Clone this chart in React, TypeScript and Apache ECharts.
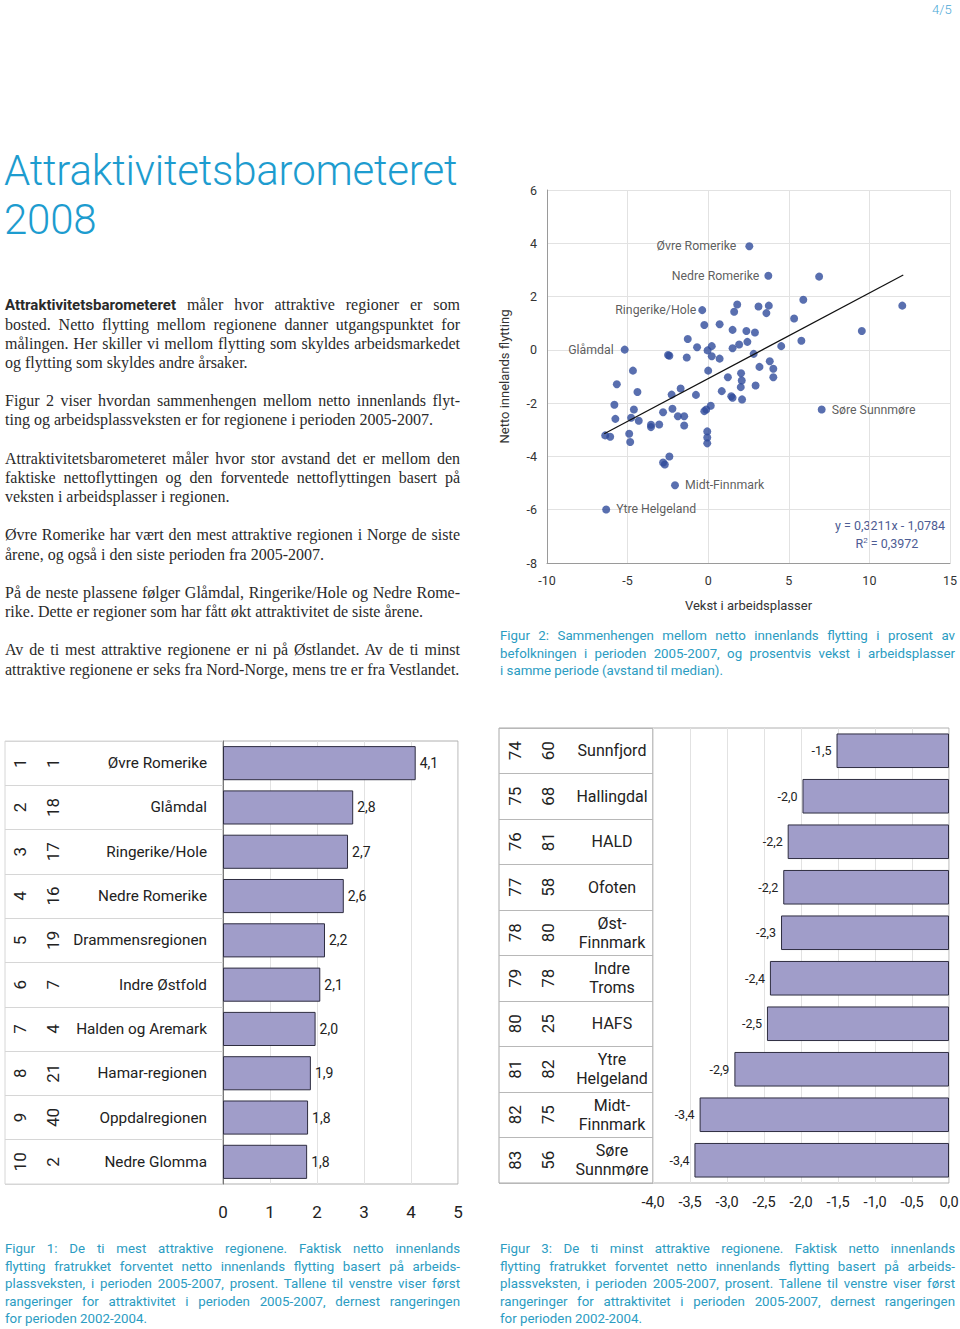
import React, { useEffect, useRef } from "react";
import * as echarts from "echarts";

// ---------- Figure 2: scatter data ----------
const scatterPoints: [number, number][] = [
  [6.88, 2.75], [5.9, 1.88], [12.04, 1.66], [1.8, 1.7], [1.61, 1.43], [3.12, 1.63], [3.76, 1.66],
  [3.61, 1.38], [5.33, 1.18], [-0.24, 0.93], [0.71, 0.96], [1.51, 0.75], [2.37, 0.71], [2.9, 0.65],
  [9.53, 0.71], [-1.27, 0.41], [-0.69, 0.1], [0.22, 0.14], [-0.04, -0.02], [1.51, 0.06], [1.92, 0.2],
  [2.43, 0.3], [4.53, 0.14], [5.78, 0.34], [-2.49, -0.19], [-2.41, -0.22], [-1.33, -0.29], [0.22, -0.24],
  [0.71, -0.33], [2.82, -0.15], [3.82, -0.43], [3.18, -0.64], [4.04, -0.71], [4.04, -1.03], [0, -0.78],
  [2.04, -0.88], [2.08, -1.15], [2.02, -1.4], [2.94, -1.34], [1.22, -1.03], [-4.67, -0.78], [-5.67, -1.29],
  [-4.39, -1.58], [-1.71, -1.45], [-2.27, -1.68], [-0.76, -1.69], [0.84, -1.55], [1.43, -1.74], [1.51, -1.8],
  [2.1, -1.86], [-5.82, -2.06], [-4.61, -2.24], [-5.76, -2.59], [-4.78, -2.55], [-4.31, -2.66], [-2.8, -2.34],
  [-2.22, -2.21], [-1.88, -2.49], [-1.49, -2.49], [-1.49, -2.84], [-3.55, -2.81], [-3.55, -2.9], [-3.04, -2.8],
  [-0.24, -2.3], [-0.12, -2.24], [0.16, -2.1], [-6.39, -3.21], [-6.08, -3.26], [-4.9, -3.15], [-4.84, -3.46],
  [-0.06, -3.06], [-0.06, -3.29], [-0.06, -3.51], [-2.41, -4.0], [-2.8, -4.23], [-2.69, -4.3],
];
const labeledRegions = ["Øvre Romerike", "Nedre Romerike", "Ringerike/Hole", "Glåmdal", "Søre Sunnmøre", "Midt-Finnmark", "Ytre Helgeland"];
const labeledPoints: [number, number][] = [
  [2.55, 3.89], [3.73, 2.78], [-0.37, 1.49], [-5.18, 0.01], [7.04, -2.24], [-2.06, -5.08], [-6.33, -5.99],
];
const labelSides = ["left", "left", "left", "left", "right", "right", "right"];
const labelGaps = [9, 5, 2, 7, 6, 6, 6];
const trendSlope = 0.3211;
const trendIntercept = -1.0784;
const trendRange = [-6.45, 12.1];

// ---------- Figure 1: top ten ----------
const topNames = ["Øvre Romerike", "Glåmdal", "Ringerike/Hole", "Nedre Romerike", "Drammensregionen", "Indre Østfold", "Halden og Aremark", "Hamar-regionen", "Oppdalregionen", "Nedre Glomma"];
const topValues = [4.1, 2.77, 2.66, 2.57, 2.17, 2.07, 1.97, 1.87, 1.81, 1.79];
const topRank2008 = ["1", "2", "3", "4", "5", "6", "7", "8", "9", "10"];
const topRank0204 = ["1", "18", "17", "16", "19", "7", "4", "21", "40", "2"];

// ---------- Figure 3: bottom ten ----------
const bottomNames = ["Sunnfjord", "Hallingdal", "HALD", "Ofoten", "Øst-\nFinnmark", "Indre\nTroms", "HAFS", "Ytre\nHelgeland", "Midt-\nFinnmark", "Søre\nSunnmøre"];
const bottomValues = [-1.52, -1.98, -2.18, -2.24, -2.27, -2.42, -2.46, -2.9, -3.37, -3.44];
const bottomRank2008 = ["74", "75", "76", "77", "78", "79", "80", "81", "82", "83"];
const bottomRank0204 = ["60", "68", "81", "58", "80", "78", "25", "82", "75", "56"];

// ---------- Text ----------
const paragraphs: string[][] = [
  ["§Attraktivitetsbarometeret§ måler hvor attraktive regioner er som", "bosted. Netto flytting mellom regionene danner utgangspunktet for", "målingen. Her skiller vi mellom flytting som skyldes arbeidsmarkedet", "og flytting som skyldes andre årsaker."],
  ["Figur 2 viser hvordan sammenhengen mellom netto innenlands flyt-", "ting og arbeidsplassveksten er for regionene i perioden 2005-2007."],
  ["Attraktivitetsbarometeret måler hvor stor avstand det er mellom den", "faktiske nettoflyttingen og den forventede nettoflyttingen basert på", "veksten i arbeidsplasser i regionen."],
  ["Øvre Romerike har vært den mest attraktive regionen i Norge de siste", "årene, og også i den siste perioden fra 2005-2007."],
  ["På de neste plassene følger Glåmdal, Ringerike/Hole og Nedre Rome-", "rike. Dette er regioner som har fått økt attraktivitet de siste årene."],
  ["Av de ti mest attraktive regionene er ni på Østlandet. Av de ti minst", "attraktive regionene er seks fra Nord-Norge, mens tre er fra Vestlandet."],
];
const caption2 = ["Figur 2: Sammenhengen mellom netto innenlands flytting i prosent av", "befolkningen i perioden 2005-2007, og prosentvis vekst i arbeidsplasser", "i samme periode (avstand til median)."];
const caption1 = ["Figur 1: De ti mest attraktive regionene. Faktisk netto innenlands", "flytting fratrukket forventet netto innenlands flytting basert på arbeids-", "plassveksten, i perioden 2005-2007, prosent. Tallene til venstre viser først", "rangeringer for attraktivitet i perioden 2005-2007, dernest rangeringen", "for perioden 2002-2004."];
const caption3 = ["Figur 3: De ti minst attraktive regionene. Faktisk netto innenlands", "flytting fratrukket forventet netto innenlands flytting basert på arbeids-", "plassveksten, i perioden 2005-2007, prosent. Tallene til venstre viser først", "rangeringer for attraktivitet i perioden 2005-2007, dernest rangeringen", "for perioden 2002-2004."];

const SANS = 'Roboto, "Noto Sans", sans-serif';
const SERIF = '"Liberation Serif", "DejaVu Serif", serif';
const BLUE = "#2b9cc2";
const comma = (v: number) => v.toFixed(1).replace(".", ",");

function Lines({ lines, left, top, width, lh, style }: any) {
  return (
    <div style={{ position: "absolute", left, top, width, ...style }}>
      {lines.map((l: string, i: number) => {
        const last = i === lines.length - 1;
        let content: any = l;
        if (l.startsWith("§")) {
          const parts = l.split("§");
          content = (
            <>
              <span style={{ fontFamily: SANS, fontWeight: 700, fontSize: "15px" }}>{parts[1]}</span>
              {parts[2]}
            </>
          );
        }
        return (
          <div key={i} style={{ height: lh, lineHeight: lh + "px", textAlign: "justify", textAlignLast: last ? "left" : "justify", overflow: "visible" }}>
            {content}
          </div>
        );
      })}
    </div>
  );
}

export default function App() {
  const ref = useRef<HTMLDivElement>(null);
  useEffect(() => {
    if (!ref.current) return;
    const chart = echarts.init(ref.current, undefined, { renderer: "svg" });
    const gridLine = { show: true, lineStyle: { color: "#e2e2e2", width: 1 } };
    const hiddenX = (gridIndex: number) => ({ type: "value", gridIndex, show: false, min: 0, max: 1 });
    const rankAxis = (gridIndex: number, data: string[], margin: number) => ({
      type: "category", gridIndex, data, inverse: true, position: "left",
      axisLine: { show: false }, axisTick: { show: false }, splitLine: { show: false },
      axisLabel: { rotate: 90, margin, fontSize: 17, color: "#222", fontFamily: SANS, interval: 0 },
    });
    const tableAxis = (gridIndex: number, data: string[], color: string) => ({
      type: "category", gridIndex, data, inverse: true, position: "left",
      axisLine: { show: false }, axisTick: { show: false }, axisLabel: { show: false },
      splitLine: { show: true, interval: 0, lineStyle: { color, width: 1 } },
    });
    const g = (o: any) => ({ outerBoundsMode: "none", containLabel: false, ...o });
    const option: any = {
      animation: false,
      textStyle: { fontFamily: SANS },
      grid: [
        g({ left: 547, top: 190, width: 403, height: 373 }),
        g({ left: 5, top: 741, width: 218, height: 443, show: true, borderColor: "#d6d6d6", borderWidth: 1 }),
        g({ left: 223, top: 741, width: 235, height: 443, show: true, borderColor: "#b0b0b0", borderWidth: 1 }),
        g({ left: 499, top: 728, width: 154, height: 455, show: true, borderColor: "#a8a8a8", borderWidth: 1 }),
        g({ left: 653, top: 728, width: 296, height: 455, show: true, borderColor: "#b0b0b0", borderWidth: 1 }),
      ],
      xAxis: [
        {
          type: "value", gridIndex: 0, min: -10, max: 15, interval: 5,
          name: "Vekst i arbeidsplasser", nameLocation: "middle", nameGap: 36,
          nameTextStyle: { fontSize: 13, color: "#333", fontFamily: SANS },
          axisLine: { show: true, onZero: false, lineStyle: { color: "#9a9a9a" } },
          axisTick: { show: false },
          axisLabel: { margin: 11, fontSize: 12.5, color: "#333" },
          splitLine: gridLine,
        },
        hiddenX(1),
        {
          type: "value", gridIndex: 2, min: 0, max: 5, interval: 1,
          axisLine: { show: false }, axisTick: { show: false },
          axisLabel: { margin: 19, fontSize: 17, color: "#222" },
          splitLine: gridLine,
        },
        hiddenX(3),
        {
          type: "value", gridIndex: 4, min: -4, max: 0, interval: 0.5,
          axisLine: { show: false }, axisTick: { show: false },
          axisLabel: { margin: 12, fontSize: 14.5, color: "#222", formatter: (v: number) => comma(v) },
          splitLine: gridLine,
        },
      ],
      yAxis: [
        {
          type: "value", gridIndex: 0, min: -8, max: 6, interval: 2, position: "left",
          name: "Netto innelands flytting", nameLocation: "middle", nameGap: 36,
          nameTextStyle: { fontSize: 13, color: "#333", fontFamily: SANS },
          axisLine: { show: true, onZero: false, lineStyle: { color: "#9a9a9a" } },
          axisTick: { show: false },
          axisLabel: { margin: 10, fontSize: 12.5, color: "#333" },
          splitLine: gridLine,
        },
        tableAxis(1, topNames, "#d6d6d6"),
        {
          type: "category", gridIndex: 2, data: topNames, inverse: true, position: "left",
          axisLine: { show: true, lineStyle: { color: "#777" } }, axisTick: { show: false },
          axisLabel: { margin: 16, fontSize: 15.3, color: "#222", interval: 0 },
        },
        rankAxis(2, topRank2008, 195),
        rankAxis(2, topRank0204, 162),
        tableAxis(3, bottomNames, "#b8b8b8"),
        {
          type: "category", gridIndex: 4, data: bottomNames, inverse: true, position: "left",
          axisLine: { show: false }, axisTick: { show: false },
          axisLabel: { margin: 41, fontSize: 16, color: "#222", align: "center", lineHeight: 19, interval: 0 },
        },
        rankAxis(4, bottomRank2008, 130),
        rankAxis(4, bottomRank0204, 97),
      ],
      series: [
        {
          type: "scatter", xAxisIndex: 0, yAxisIndex: 0, data: scatterPoints,
          symbolSize: 8, itemStyle: { color: "#2f4b9b" },
        },
        {
          type: "scatter", xAxisIndex: 0, yAxisIndex: 0, symbolSize: 8, itemStyle: { color: "#2f4b9b" },
          data: labeledPoints.map((p, i) => ({
            value: p, name: labeledRegions[i],
            label: { show: true, position: labelSides[i], distance: labelGaps[i], formatter: "{b}", fontSize: 12.3, color: "#333" },
          })),
        },
        {
          type: "line", xAxisIndex: 0, yAxisIndex: 0, symbol: "none",
          data: trendRange.map((x) => [x, trendSlope * x + trendIntercept]),
          lineStyle: { color: "#111", width: 1.2 },
        },
        {
          type: "bar", xAxisIndex: 2, yAxisIndex: 2, data: topValues, barCategoryGap: "23%",
          itemStyle: { color: "#a09dc9", borderColor: "#2e2d40", borderWidth: 1 },
          label: { show: true, position: "right", distance: 4, fontSize: 14, color: "#222", formatter: (p: any) => comma(p.value) },
        },
        {
          type: "bar", xAxisIndex: 4, yAxisIndex: 6, data: bottomValues, barCategoryGap: "24%",
          itemStyle: { color: "#a09dc9", borderColor: "#2e2d40", borderWidth: 1 },
          label: { show: true, position: "left", distance: 5, fontSize: 12.5, color: "#222", formatter: (p: any) => comma(p.value) },
        },
      ],
      graphic: [
        {
          type: "text", x: 945, y: 525,
          style: { text: `y = ${trendSlope.toFixed(4).replace(".", ",")}x - ${Math.abs(trendIntercept).toFixed(4).replace(".", ",")}`, fill: "#4d5c94", fontSize: 12.5, fontFamily: SANS, textAlign: "right", textVerticalAlign: "middle" },
        },
        {
          type: "text", x: 887, y: 543,
          style: {
            text: "R{s|2} = 0,3972", fill: "#4d5c94", fontSize: 12.5, fontFamily: SANS, textAlign: "center", textVerticalAlign: "middle",
            rich: { s: { fontSize: 8, verticalAlign: "top", padding: [0, 0, 6, 0], fill: "#4d5c94" } },
          },
        },
      ],
    };
    chart.setOption(option);
    return () => chart.dispose();
  }, []);

  const paraCenters = [305, 400.7, 458.3, 535, 592.5, 650];
  const plh = 19.16;
  return (
    <div style={{ position: "absolute", left: 0, top: 0, width: 960, height: 1329, background: "#fff", overflow: "hidden" }}>
      <div ref={ref} style={{ position: "absolute", left: 0, top: 0, width: 960, height: 1329 }} />
      <div style={{ position: "absolute", left: 932, top: 2, fontFamily: SANS, fontWeight: 300, fontSize: 13, color: "#4aa8d6" }}>4/5</div>
      <div style={{ position: "absolute", left: 4, top: 146, fontFamily: SANS, fontWeight: 300, fontSize: 42, letterSpacing: "-0.2px", lineHeight: "49px", color: "#1d9ccf" }}>
        <div>Attraktivitetsbarometeret</div>
        <div>2008</div>
      </div>
      {paragraphs.map((p, i) => (
        <Lines key={i} lines={p} left={5} top={paraCenters[i] - plh / 2} width={455} lh={plh}
          style={{ fontFamily: SERIF, fontSize: 16, color: "#2a2a2a" }} />
      ))}
      <Lines lines={caption2} left={500} top={636 - 8.75} width={455} lh={17.5} style={{ fontFamily: SANS, fontSize: 13.3, color: BLUE }} />
      <Lines lines={caption1} left={5} top={1249 - 8.75} width={455} lh={17.5} style={{ fontFamily: SANS, fontSize: 13.3, color: BLUE }} />
      <Lines lines={caption3} left={500} top={1249 - 8.75} width={455} lh={17.5} style={{ fontFamily: SANS, fontSize: 13.3, color: BLUE }} />
    </div>
  );
}
